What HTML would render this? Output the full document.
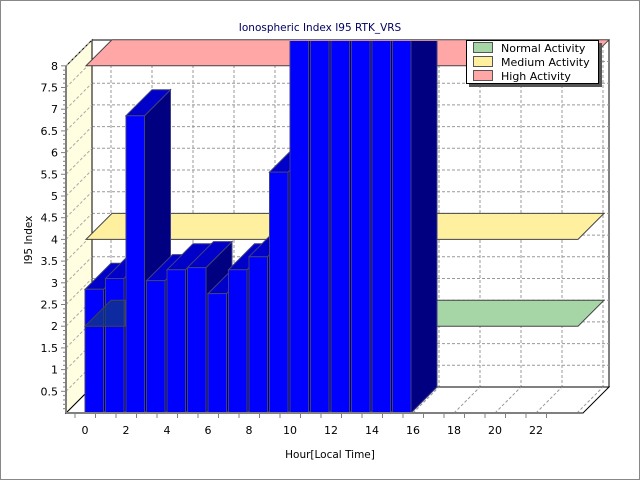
<!DOCTYPE html>
<html><head><meta charset="utf-8"><style>
html,body{margin:0;padding:0;background:#fff}
svg{display:block;font-family:"DejaVu Sans","Liberation Sans",sans-serif}
</style></head><body>
<svg id="s" width="640" height="480" viewBox="0 0 640 480" xmlns="http://www.w3.org/2000/svg">
<rect x="0.5" y="0.5" width="639" height="479" fill="#fff" stroke="#888"/>
<text x="320" y="31" font-size="10.5" fill="#000060" text-anchor="middle">Ionospheric Index I95 RTK_VRS</text>
<text x="330" y="458" font-size="10.5" fill="#000" text-anchor="middle">Hour[Local Time]</text>
<text transform="translate(32,240) rotate(-90)" font-size="10.5" fill="#000" text-anchor="middle">I95 Index</text>
<defs><clipPath id="c"><rect x="0" y="41" width="640" height="440"/></clipPath></defs>
<g id="g"></g>
</svg>
<script>
var g=document.getElementById('g'),h='';
function P(pts,f,s,extra){h+='<polygon points="'+pts.map(p=>p.join(',')).join(' ')+'" fill="'+f+'" stroke="'+(s||'none')+'" '+(extra||'')+'/>';}
function L(x1,y1,x2,y2,s,extra){h+='<line x1="'+x1+'" y1="'+y1+'" x2="'+x2+'" y2="'+y2+'" stroke="'+s+'" '+(extra||'')+'/>';}
var Y=v=>413-v*43.4, D=26;
P([[92,40],[609,40],[609,387],[92,387]],'#fff','#000');
for(var k=1;k<16;k++){var y=387-k*21.7;L(92,y,609,y,'#999','stroke-dasharray="3,2"');}
for(var x=111;x<609;x+=41)L(x,40,x,387,'#999','stroke-dasharray="3,2"');
P([[66,413],[583,413],[609,387],[92,387]],'#fff','#000');
for(var x=85;x<583;x+=41)L(x,413,x+26,387,'#999','stroke-dasharray="3,2"');
P([[66,66],[92,40],[92,387],[66,413]],'#fffee0','#000');
for(var k=1;k<=16;k++){var y=Y(k*0.5);L(66,y,92,y-26,'#aaa','stroke-dasharray="3,2"');}
P([[86,Y(8)],[583,Y(8)],[609,Y(8)-26],[112,Y(8)-26]],'#ffa6a6','#444');
P([[86,Y(4)],[578,Y(4)],[604,Y(4)-26],[112,Y(4)-26]],'#fff0a0','#444');
P([[86,Y(2)],[578,Y(2)],[604,Y(2)-26],[112,Y(2)-26]],'#a6d5a6','#444');
var vals=[2.85,3.1,6.85,3.05,3.3,3.35,2.75,3.3,3.6,5.55,9,9,9,9,9,9];
h+='<g clip-path="url(#c)">';
vals.forEach(function(v,i){var x0=85+20.5*i,w=18.5,t=Y(v);
P([[x0+w,t],[x0+w+D,t-D],[x0+w+D,387],[x0+w,413]],'#000080','#404080');
P([[x0,t],[x0+D,t-D],[x0+w+D,t-D],[x0+w,t]],'#0000c8','#404080');
P([[x0,t],[x0+w,t],[x0+w,413],[x0,413]],'#0000ff','#404080');});
h+='</g>';
P([[85,Y(2)],[125,Y(2)],[125,Y(2)-26],[111,Y(2)-26]],'rgba(20,60,120,0.7)','#444');
L(66,66,66,413,'#808080','stroke-width="2"');L(66,413,583,413,'#808080','stroke-width="2"');
for(var k=1;k<=80;k++){var y=Y(k*0.1);L(k%5==0?61:63,y,66,y,'#808080');}
for(var k=1;k<=16;k++){var v=k*0.5;h+='<text x="58" y="'+(Y(v)+4)+'" font-size="11" text-anchor="end">'+(v%1?v:v.toFixed(0))+'</text>';}
for(var x=0;x<=23;x++){var xx=85+20.5*x-10;L(xx,413,xx,418,'#808080');}
for(var x=0;x<=22;x+=2)h+='<text x="'+(85+20.5*x)+'" y="434" font-size="11" text-anchor="middle">'+x+'</text>';
h+='<rect x="469" y="43" width="133" height="44" fill="#555"/><rect x="466.5" y="40.5" width="132" height="43" fill="#fff" stroke="#000"/>';
[['#a6d5a6','Normal Activity',48],['#fff0a0','Medium Activity',62],['#ffa6a6','High Activity',76]].forEach(function(e){
h+='<rect x="473.5" y="'+(e[2]-5.5)+'" width="19" height="10" fill="'+e[0]+'" stroke="#555"/><text x="501" y="'+(e[2]+4)+'" font-size="11">'+e[1]+'</text>';});
g.innerHTML=h;
</script>
</body></html>
